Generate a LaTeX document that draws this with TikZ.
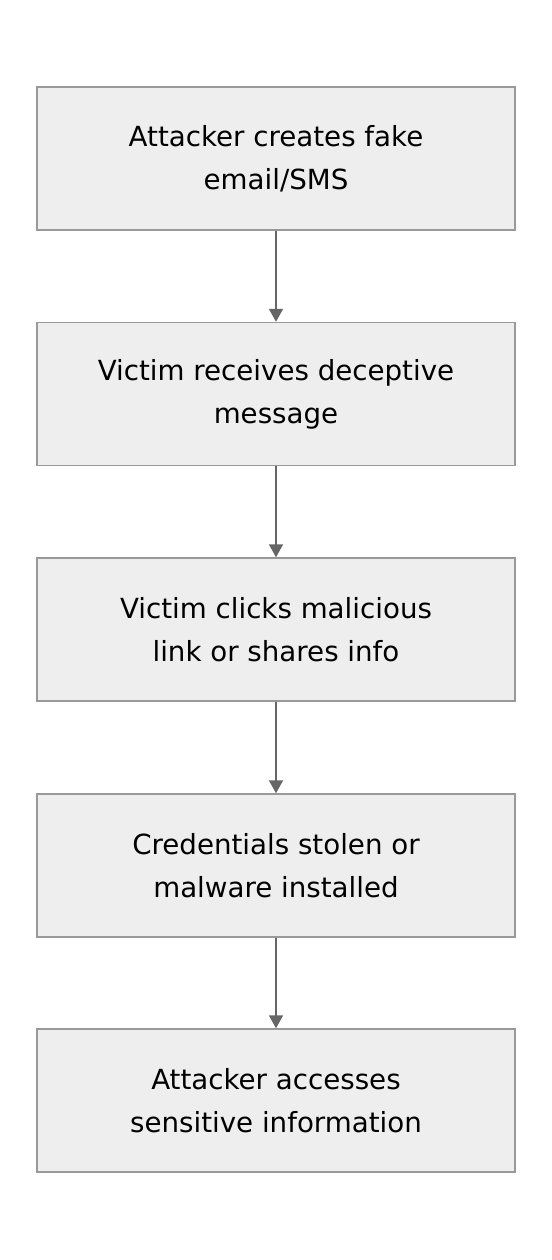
\documentclass[tikz,border=0pt]{standalone}
\usepackage{fontspec}
\setmainfont{DejaVu Sans}
\usetikzlibrary{arrows.meta,positioning}
\definecolor{boxfill}{HTML}{EEEEEE}
\definecolor{boxline}{HTML}{999999}
\definecolor{arrowline}{HTML}{666666}
\tikzset{
  stepbox/.style={draw=boxline,fill=boxfill,line width=1.5bp,minimum width=478bp,minimum height=143bp,
    align=center,font=\fontsize{27.8}{43}\selectfont,inner sep=0pt},
  flow/.style={draw=arrowline,line width=1.8bp,-{Triangle[width=14bp,length=13bp]}}
}
\begin{document}
\begin{tikzpicture}[x=1bp,y=-1bp]
   \useasboundingbox (0,0) rectangle (552,1260);
   \node[stepbox] (s1) at (276,158.5) {Attacker creates fake\\email/SMS};
   \node[stepbox] (s2) at (276,394) {Victim receives deceptive\\message};
   \node[stepbox] (s3) at (276,629.5) {Victim clicks malicious\\link or shares info};
   \node[stepbox] (s4) at (276,865.5) {Credentials stolen or\\malware installed};
   \node[stepbox] (s5) at (276,1100.5) {Attacker accesses\\sensitive information};
\draw[flow]  (s1)--(s2);
\draw[flow]  (s2)--(s3);
\draw[flow]  (s3)--(s4);
\draw[flow]  (s4)--(s5);
\end{tikzpicture}
\end{document}
